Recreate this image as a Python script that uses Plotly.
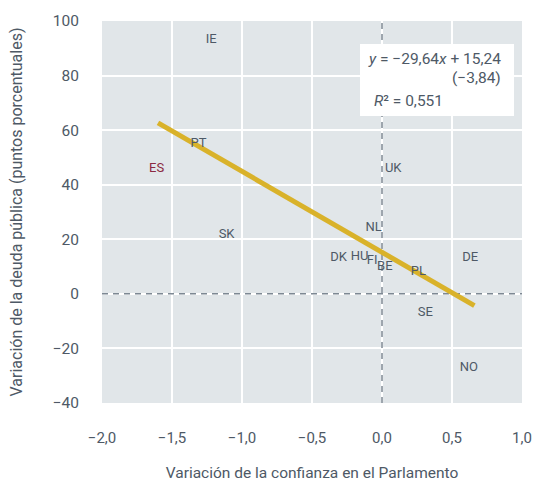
import plotly.graph_objects as go

countries = ["IE", "PT", "ES", "SK", "UK", "NL", "DK", "HU", "FI", "BE", "PL", "DE", "SE", "NO"]
trust_change = [-1.22, -1.31, -1.61, -1.11, 0.08, -0.06, -0.31, -0.16, -0.07, 0.02, 0.26, 0.63, 0.31, 0.62]
debt_change = [93, 55, 46, 21.6, 45.8, 24.2, 13.2, 13.6, 12, 9.9, 8, 13.2, -7, -27]
highlight = ["ES"]

slope = -29.64
intercept = 15.24
fit_x = [-1.6, 0.66]
fit_y = [slope * v + intercept for v in fit_x]

xticks = [-2.0, -1.5, -1.0, -0.5, 0.0, 0.5, 1.0]
xticklabels = ["\u22122,0", "\u22121,5", "\u22121,0", "\u22120,5", "0,0", "0,5", "1,0"]
yticks = [-40, -20, 0, 20, 40, 60, 80, 100]
yticklabels = ["\u221240", "\u221220", "0", "20", "40", "60", "80", "100"]

FONT = "Roboto, Arial"
TXT = "#4e5966"
HL = "#8b2942"
DASH = "#7d8893"

fig = go.Figure()
fig.add_trace(go.Scatter(x=fit_x, y=fit_y, mode="lines",
                         line=dict(color="#d9b22a", width=5), hoverinfo="skip"))
fig.add_trace(go.Scatter(x=trust_change, y=debt_change, mode="text", text=countries,
                         textfont=dict(family=FONT, size=13,
                                       color=[HL if c in highlight else TXT for c in countries]),
                         textposition="middle center"))

fig.add_shape(type="line", x0=0, x1=0, y0=-40, y1=100,
              line=dict(color=DASH, width=1.5, dash="6px,5px"), layer="between")
fig.add_shape(type="line", x0=-2, x1=1, y0=0, y1=0,
              line=dict(color=DASH, width=1.5, dash="6px,5px"), layer="between")
fig.add_shape(type="rect", x0=-0.157, x1=0.943, y0=65.2, y1=91.6,
              fillcolor="white", line=dict(width=0), layer="above")

ann_font = dict(family=FONT, size=15.5, color=TXT)
fig.add_annotation(x=0.864, y=86.1, xanchor="right", yanchor="middle", showarrow=False,
                   text="<i>y</i> = \u221229,64<i>x</i> + 15,24", font=ann_font)
fig.add_annotation(x=0.864, y=79.1, xanchor="right", yanchor="middle", showarrow=False,
                   text="(\u22123,84)", font=ann_font)
fig.add_annotation(x=-0.071, y=70.7, xanchor="left", yanchor="middle", showarrow=False,
                   text="<i>R</i>\u00b2 = 0,551", font=ann_font)

fig.update_layout(
    width=533, height=487,
    margin=dict(l=102, r=11, t=21, b=84),
    paper_bgcolor="white", plot_bgcolor="#e1e6e9",
    showlegend=False,
    font=dict(family=FONT, size=16, color=TXT),
    xaxis=dict(range=[-2, 1], tickvals=xticks, ticktext=xticklabels, showgrid=True,
               gridcolor="white", gridwidth=2, zeroline=False, showline=False, ticks="",
               automargin=False, ticklabelstandoff=24, tickfont=dict(size=15),
               ticklabeloverflow="allow",
               title=dict(text="Variación de la confianza en el Parlamento", standoff=21,
                          font=dict(size=15.5, color=TXT))),
    yaxis=dict(range=[-40, 100], tickvals=yticks, ticktext=yticklabels, showgrid=True,
               gridcolor="white", gridwidth=2, zeroline=False, showline=False, ticks="",
               automargin=False, ticklabelstandoff=22, tickfont=dict(size=15.5),
               title=dict(text="Variación de la deuda pública (puntos porcentuales)", standoff=26,
                          font=dict(size=16, color=TXT))),
)

fig.write_html("out.html", config={"displayModeBar": False},
               post_script="document.body.style.margin='0';")
